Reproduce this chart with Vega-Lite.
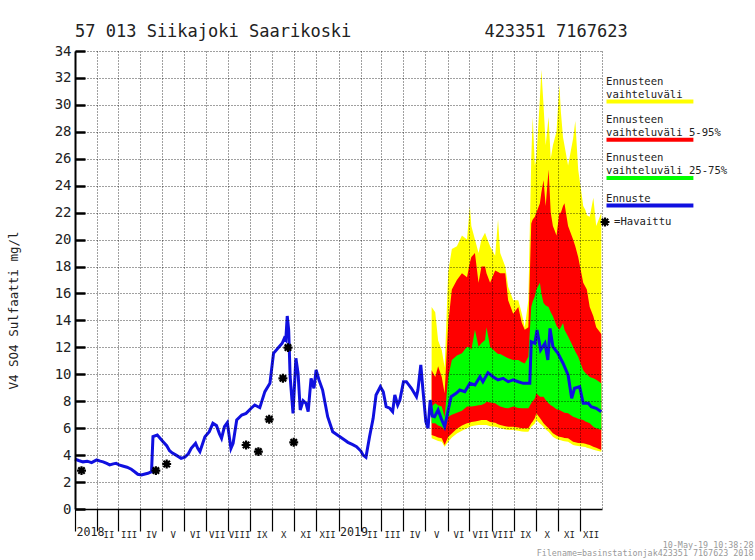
{
  "$schema": "https://vega.github.io/schema/vega-lite/v6.json",
  "width": 527,
  "height": 458,
  "autosize": {"type": "none"},
  "padding": {"left": 75, "top": 51, "right": 153, "bottom": 51},
  "background": "white",
  "title": {
    "text": "57 013 Siikajoki Saarikoski\u00a0\u00a0\u00a0\u00a0\u00a0\u00a0\u00a0\u00a0\u00a0\u00a0\u00a0\u00a0\u00a0423351 7167623",
    "anchor": "start", "frame": "group", "font": "DejaVu Sans Mono", "fontSize": 17,
    "fontWeight": "normal", "color": "#222", "offset": -10, "baseline": "alphabetic"
  },
  "datasets": {
    "series": [
      {"date": "2018-01-01", "value": 3.71}, {"date": "2018-01-06", "value": 3.6}, {"date": "2018-01-12", "value": 3.5},
      {"date": "2018-01-18", "value": 3.55}, {"date": "2018-01-24", "value": 3.44}, {"date": "2018-01-31", "value": 3.64},
      {"date": "2018-02-05", "value": 3.55}, {"date": "2018-02-09", "value": 3.5}, {"date": "2018-02-14", "value": 3.38},
      {"date": "2018-02-18", "value": 3.27}, {"date": "2018-02-23", "value": 3.35}, {"date": "2018-02-27", "value": 3.39},
      {"date": "2018-03-04", "value": 3.25}, {"date": "2018-03-08", "value": 3.19}, {"date": "2018-03-14", "value": 3.1},
      {"date": "2018-03-20", "value": 2.95}, {"date": "2018-03-25", "value": 2.75}, {"date": "2018-03-29", "value": 2.58},
      {"date": "2018-04-03", "value": 2.52}, {"date": "2018-04-08", "value": 2.6}, {"date": "2018-04-12", "value": 2.65},
      {"date": "2018-04-17", "value": 2.77}, {"date": "2018-04-19", "value": 5.37}, {"date": "2018-04-25", "value": 5.49},
      {"date": "2018-05-03", "value": 5.0}, {"date": "2018-05-08", "value": 4.7}, {"date": "2018-05-12", "value": 4.33},
      {"date": "2018-05-16", "value": 4.15}, {"date": "2018-05-21", "value": 4.0}, {"date": "2018-05-28", "value": 3.76},
      {"date": "2018-06-02", "value": 3.84}, {"date": "2018-06-07", "value": 4.1}, {"date": "2018-06-11", "value": 4.5},
      {"date": "2018-06-17", "value": 4.88}, {"date": "2018-06-20", "value": 4.5}, {"date": "2018-06-23", "value": 4.26},
      {"date": "2018-06-30", "value": 5.37}, {"date": "2018-07-06", "value": 5.74}, {"date": "2018-07-11", "value": 6.36},
      {"date": "2018-07-16", "value": 6.19}, {"date": "2018-07-20", "value": 5.6}, {"date": "2018-07-23", "value": 5.25},
      {"date": "2018-07-27", "value": 6.11}, {"date": "2018-07-31", "value": 6.41}, {"date": "2018-08-05", "value": 4.5},
      {"date": "2018-08-08", "value": 4.88}, {"date": "2018-08-13", "value": 6.61}, {"date": "2018-08-20", "value": 6.98},
      {"date": "2018-08-26", "value": 7.1}, {"date": "2018-09-02", "value": 7.48}, {"date": "2018-09-07", "value": 7.72},
      {"date": "2018-09-14", "value": 7.52}, {"date": "2018-09-21", "value": 8.71}, {"date": "2018-09-28", "value": 9.33},
      {"date": "2018-10-03", "value": 11.56}, {"date": "2018-10-09", "value": 11.93}, {"date": "2018-10-15", "value": 12.3},
      {"date": "2018-10-18", "value": 12.67}, {"date": "2018-10-20", "value": 12.55}, {"date": "2018-10-22", "value": 14.33},
      {"date": "2018-10-24", "value": 13.29}, {"date": "2018-10-26", "value": 9.82}, {"date": "2018-10-30", "value": 7.1},
      {"date": "2018-11-03", "value": 11.19}, {"date": "2018-11-06", "value": 10.07}, {"date": "2018-11-09", "value": 7.35},
      {"date": "2018-11-13", "value": 8.04}, {"date": "2018-11-17", "value": 7.85}, {"date": "2018-11-20", "value": 7.22},
      {"date": "2018-11-24", "value": 9.7}, {"date": "2018-11-28", "value": 8.96}, {"date": "2018-12-01", "value": 10.32},
      {"date": "2018-12-05", "value": 9.58}, {"date": "2018-12-10", "value": 8.83}, {"date": "2018-12-17", "value": 6.85},
      {"date": "2018-12-24", "value": 5.74}, {"date": "2019-01-03", "value": 5.37}, {"date": "2019-01-10", "value": 5.1},
      {"date": "2019-01-14", "value": 4.95}, {"date": "2019-01-20", "value": 4.8}, {"date": "2019-01-26", "value": 4.63},
      {"date": "2019-02-01", "value": 4.3}, {"date": "2019-02-04", "value": 4.0}, {"date": "2019-02-08", "value": 3.84},
      {"date": "2019-02-13", "value": 5.37}, {"date": "2019-02-18", "value": 6.73}, {"date": "2019-02-22", "value": 8.46},
      {"date": "2019-02-28", "value": 9.08}, {"date": "2019-03-04", "value": 8.71}, {"date": "2019-03-08", "value": 7.6},
      {"date": "2019-03-13", "value": 7.48}, {"date": "2019-03-17", "value": 7.22}, {"date": "2019-03-20", "value": 8.46},
      {"date": "2019-03-24", "value": 7.72}, {"date": "2019-03-27", "value": 8.09}, {"date": "2019-04-01", "value": 9.45},
      {"date": "2019-04-05", "value": 9.45}, {"date": "2019-04-12", "value": 8.96}, {"date": "2019-04-19", "value": 8.34},
      {"date": "2019-04-21", "value": 8.83}, {"date": "2019-04-25", "value": 10.69}, {"date": "2019-04-28", "value": 8.83},
      {"date": "2019-05-02", "value": 6.48}, {"date": "2019-05-05", "value": 5.99}, {"date": "2019-05-08", "value": 8.09},
      {"date": "2019-05-11", "value": 6.9}, {"date": "2019-05-14", "value": 6.85}, {"date": "2019-05-19", "value": 7.35},
      {"date": "2019-05-24", "value": 6.61}, {"date": "2019-05-28", "value": 6.11}, {"date": "2019-06-02", "value": 7.35},
      {"date": "2019-06-06", "value": 8.34}, {"date": "2019-06-13", "value": 8.59}, {"date": "2019-06-18", "value": 8.83},
      {"date": "2019-06-25", "value": 8.71}, {"date": "2019-07-02", "value": 9.33}, {"date": "2019-07-09", "value": 9.21},
      {"date": "2019-07-16", "value": 9.82}, {"date": "2019-07-20", "value": 9.45}, {"date": "2019-07-27", "value": 10.12},
      {"date": "2019-08-03", "value": 9.82}, {"date": "2019-08-10", "value": 9.58}, {"date": "2019-08-17", "value": 9.7},
      {"date": "2019-08-24", "value": 9.45}, {"date": "2019-08-31", "value": 9.58}, {"date": "2019-09-07", "value": 9.45},
      {"date": "2019-09-14", "value": 9.33}, {"date": "2019-09-23", "value": 9.33}, {"date": "2019-09-25", "value": 12.42},
      {"date": "2019-09-30", "value": 12.3}, {"date": "2019-10-03", "value": 13.29}, {"date": "2019-10-08", "value": 11.8},
      {"date": "2019-10-14", "value": 12.3}, {"date": "2019-10-18", "value": 11.06}, {"date": "2019-10-21", "value": 13.41},
      {"date": "2019-10-25", "value": 12.05}, {"date": "2019-11-01", "value": 11.56}, {"date": "2019-11-08", "value": 10.82},
      {"date": "2019-11-15", "value": 9.95}, {"date": "2019-11-20", "value": 8.22}, {"date": "2019-11-24", "value": 8.96},
      {"date": "2019-12-01", "value": 9.08}, {"date": "2019-12-06", "value": 7.85}, {"date": "2019-12-13", "value": 7.85},
      {"date": "2019-12-17", "value": 7.6}, {"date": "2019-12-24", "value": 7.48}, {"date": "2019-12-31", "value": 7.22}
    ],
    "bands": [
      {"date": "2019-05-10", "min": 5.25, "p5": 5.5, "p25": 6.36, "p75": 7.6, "p95": 10.3, "max": 15.0},
      {"date": "2019-05-15", "min": 5.15, "p5": 5.4, "p25": 6.36, "p75": 7.85, "p95": 9.8, "max": 14.6},
      {"date": "2019-05-19", "min": 5.05, "p5": 5.3, "p25": 6.2, "p75": 7.7, "p95": 10.6, "max": 12.5},
      {"date": "2019-05-24", "min": 5.0, "p5": 5.25, "p25": 6.1, "p75": 7.6, "p95": 9.8, "max": 11.8},
      {"date": "2019-05-28", "min": 4.63, "p5": 4.75, "p25": 5.86, "p75": 6.85, "p95": 8.6, "max": 10.5},
      {"date": "2019-06-02", "min": 5.0, "p5": 5.37, "p25": 6.85, "p75": 9.8, "p95": 13.8, "max": 17.6},
      {"date": "2019-06-07", "min": 5.3, "p5": 5.6, "p25": 7.0, "p75": 11.06, "p95": 16.3, "max": 19.3},
      {"date": "2019-06-14", "min": 5.6, "p5": 5.95, "p25": 7.15, "p75": 11.4, "p95": 17.0, "max": 19.5},
      {"date": "2019-06-21", "min": 5.8, "p5": 6.2, "p25": 7.3, "p75": 11.56, "p95": 17.5, "max": 20.3},
      {"date": "2019-06-28", "min": 6.0, "p5": 6.36, "p25": 7.6, "p75": 12.05, "p95": 17.2, "max": 20.0},
      {"date": "2019-07-02", "min": 6.1, "p5": 6.4, "p25": 7.6, "p75": 12.0, "p95": 18.3, "max": 22.5},
      {"date": "2019-07-04", "min": 6.15, "p5": 6.45, "p25": 7.6, "p75": 11.8, "p95": 18.7, "max": 21.0},
      {"date": "2019-07-09", "min": 6.2, "p5": 6.5, "p25": 7.65, "p75": 13.3, "p95": 19.0, "max": 20.0},
      {"date": "2019-07-14", "min": 6.24, "p5": 6.55, "p25": 7.7, "p75": 12.05, "p95": 16.8, "max": 19.0},
      {"date": "2019-07-18", "min": 6.24, "p5": 6.6, "p25": 7.72, "p75": 12.3, "p95": 18.0, "max": 20.0},
      {"date": "2019-07-23", "min": 6.24, "p5": 6.6, "p25": 7.85, "p75": 12.55, "p95": 18.0, "max": 20.5},
      {"date": "2019-07-25", "min": 6.24, "p5": 6.6, "p25": 7.97, "p75": 13.5, "p95": 17.5, "max": 20.2},
      {"date": "2019-07-30", "min": 6.15, "p5": 6.45, "p25": 7.9, "p75": 12.05, "p95": 16.8, "max": 19.5},
      {"date": "2019-08-06", "min": 6.1, "p5": 6.4, "p25": 7.85, "p75": 11.7, "p95": 17.7, "max": 18.8},
      {"date": "2019-08-10", "min": 6.05, "p5": 6.3, "p25": 7.7, "p75": 11.5, "p95": 17.6, "max": 21.5},
      {"date": "2019-08-13", "min": 6.0, "p5": 6.24, "p25": 7.6, "p75": 11.5, "p95": 17.5, "max": 19.0},
      {"date": "2019-08-20", "min": 5.9, "p5": 6.15, "p25": 7.5, "p75": 11.3, "p95": 17.5, "max": 18.0},
      {"date": "2019-08-24", "min": 5.86, "p5": 6.1, "p25": 7.48, "p75": 11.2, "p95": 15.5, "max": 16.5},
      {"date": "2019-08-31", "min": 5.86, "p5": 6.1, "p25": 7.6, "p75": 11.06, "p95": 14.5, "max": 15.5},
      {"date": "2019-09-07", "min": 5.8, "p5": 6.05, "p25": 7.5, "p75": 11.06, "p95": 15.0, "max": 15.5},
      {"date": "2019-09-12", "min": 5.75, "p5": 6.0, "p25": 7.48, "p75": 10.9, "p95": 13.8, "max": 14.5},
      {"date": "2019-09-16", "min": 5.74, "p5": 6.0, "p25": 7.48, "p75": 10.8, "p95": 13.3, "max": 13.5},
      {"date": "2019-09-21", "min": 5.74, "p5": 6.0, "p25": 7.48, "p75": 11.3, "p95": 13.5, "max": 15.5},
      {"date": "2019-09-25", "min": 6.1, "p5": 6.36, "p25": 7.85, "p75": 15.0, "p95": 21.2, "max": 26.0},
      {"date": "2019-09-27", "min": 6.2, "p5": 6.5, "p25": 8.0, "p75": 15.4, "p95": 21.5, "max": 29.1},
      {"date": "2019-09-30", "min": 6.35, "p5": 6.75, "p25": 8.2, "p75": 15.8, "p95": 21.7, "max": 25.5},
      {"date": "2019-10-02", "min": 6.6, "p5": 7.1, "p25": 8.6, "p75": 16.3, "p95": 22.0, "max": 26.0},
      {"date": "2019-10-07", "min": 6.35, "p5": 6.75, "p25": 8.34, "p75": 16.8, "p95": 22.7, "max": 30.5},
      {"date": "2019-10-09", "min": 6.25, "p5": 6.6, "p25": 8.34, "p75": 16.0, "p95": 23.5, "max": 32.6},
      {"date": "2019-10-12", "min": 6.1, "p5": 6.36, "p25": 8.34, "p75": 15.3, "p95": 24.4, "max": 30.0},
      {"date": "2019-10-15", "min": 5.9, "p5": 6.2, "p25": 8.1, "p75": 15.1, "p95": 22.5, "max": 27.0},
      {"date": "2019-10-19", "min": 5.74, "p5": 6.0, "p25": 7.85, "p75": 15.0, "p95": 25.2, "max": 29.1},
      {"date": "2019-10-22", "min": 5.55, "p5": 5.8, "p25": 7.7, "p75": 14.6, "p95": 22.0, "max": 26.0},
      {"date": "2019-10-25", "min": 5.37, "p5": 5.62, "p25": 7.6, "p75": 14.3, "p95": 21.0, "max": 27.0},
      {"date": "2019-10-30", "min": 5.2, "p5": 5.45, "p25": 7.4, "p75": 13.6, "p95": 20.3, "max": 28.0},
      {"date": "2019-11-03", "min": 5.12, "p5": 5.37, "p25": 7.35, "p75": 13.3, "p95": 22.0, "max": 31.5},
      {"date": "2019-11-05", "min": 5.1, "p5": 5.35, "p25": 7.3, "p75": 13.5, "p95": 22.0, "max": 29.5},
      {"date": "2019-11-08", "min": 5.05, "p5": 5.3, "p25": 7.2, "p75": 13.8, "p95": 22.5, "max": 27.6},
      {"date": "2019-11-10", "min": 5.03, "p5": 5.28, "p25": 7.15, "p75": 13.3, "p95": 22.7, "max": 27.0},
      {"date": "2019-11-15", "min": 5.0, "p5": 5.25, "p25": 7.1, "p75": 12.8, "p95": 21.0, "max": 25.5},
      {"date": "2019-11-22", "min": 4.75, "p5": 5.0, "p25": 6.85, "p75": 12.05, "p95": 20.0, "max": 27.5},
      {"date": "2019-11-25", "min": 4.72, "p5": 4.95, "p25": 6.8, "p75": 11.7, "p95": 19.5, "max": 28.8},
      {"date": "2019-11-29", "min": 4.68, "p5": 4.9, "p25": 6.7, "p75": 11.3, "p95": 18.7, "max": 25.2},
      {"date": "2019-12-06", "min": 4.63, "p5": 4.88, "p25": 6.6, "p75": 10.3, "p95": 16.8, "max": 22.5},
      {"date": "2019-12-09", "min": 4.6, "p5": 4.85, "p25": 6.5, "p75": 10.1, "p95": 16.5, "max": 22.2},
      {"date": "2019-12-11", "min": 4.55, "p5": 4.8, "p25": 6.45, "p75": 10.0, "p95": 16.3, "max": 21.8},
      {"date": "2019-12-15", "min": 4.5, "p5": 4.75, "p25": 6.36, "p75": 9.8, "p95": 15.0, "max": 21.7},
      {"date": "2019-12-20", "min": 4.4, "p5": 4.63, "p25": 6.1, "p75": 9.7, "p95": 14.3, "max": 23.1},
      {"date": "2019-12-24", "min": 4.35, "p5": 4.55, "p25": 6.0, "p75": 9.6, "p95": 13.5, "max": 21.0},
      {"date": "2019-12-31", "min": 4.25, "p5": 4.38, "p25": 5.86, "p75": 9.33, "p95": 13.0, "max": 22.0}
    ],
    "obs": [
      {"date": "2018-01-10", "value": 2.85}, {"date": "2018-04-23", "value": 2.85}, {"date": "2018-05-08", "value": 3.34},
      {"date": "2018-08-26", "value": 4.75}, {"date": "2018-09-12", "value": 4.26}, {"date": "2018-09-27", "value": 6.66},
      {"date": "2018-10-16", "value": 9.7}, {"date": "2018-10-23", "value": 11.98}, {"date": "2018-10-31", "value": 4.95}
    ]
  },
  "layer": [
    {
      "data": {"name": "bands"},
      "mark": {"type": "area", "opacity": 1},
      "encoding": {
        "x": {
          "field": "date", "type": "temporal",
          "scale": {"type": "utc", "domain": [{"year": 2018, "month": 1, "date": 1, "utc": true}, {"year": 2020, "month": 1, "date": 1, "utc": true}], "nice": false},
          "axis": {
            "zindex": 1,
            "tickCount": {"interval": "month", "step": 1},
            "grid": true,
            "domainWidth": 1.5,
            "tickSize": 22,
            "tickWidth": 1.2,
            "tickOpacity": {"condition": {"test": "utcyear(datum.value) >= 2020", "value": 0}, "value": 1},
            "labelExpr": "utcyear(datum.value) >= 2020 ? '' : (utcmonth(datum.value) == 0 ? utcFormat(datum.value, '%Y') : ['I','II','III','IV','V','VI','VII','VIII','IX','X','XI','XII'][utcmonth(datum.value)])",
            "labelOverlap": false,
            "labelFlush": false,
            "labelBound": false,
            "labelBaseline": "alphabetic",
            "labelAlign": {"condition": {"test": "utcmonth(datum.value) == 0", "value": "left"}, "value": "center"},
            "labelOffset": {"condition": {"test": "utcmonth(datum.value) == 0", "value": 1}, "value": 11},
            "labelFontSize": {"condition": {"test": "utcmonth(datum.value) == 0", "value": 11.6}, "value": 9},
            "labelPadding": {"condition": {"test": "utcmonth(datum.value) == 0", "value": 4}, "value": 6},
            "title": ["10-May-19 10:38:28\u00a0\u00a0\u00a0\u00a0\u00a0\u00a0\u00a0\u00a0\u00a0\u00a0", "Filename=basinstationjak423351 7167623 2018"],
            "titleFont": "DejaVu Sans Mono",
            "titleFontSize": 8.4,
            "titleFontWeight": "normal",
            "titleColor": "#999",
            "titleAlign": "right",
            "titleBaseline": "alphabetic",
            "titleX": 678,
            "titleY": 38,
            "titleLineHeight": 8
          }
        },
        "y": {
          "field": "min", "type": "quantitative",
          "scale": {"domain": [0, 34], "nice": false, "zero": false},
          "axis": {
            "zindex": 1,
            "values": [0, 2, 4, 6, 8, 10, 12, 14, 16, 18, 20, 22, 24, 26, 28, 30, 32, 34],
            "tickCount": 18,
            "grid": true,
            "labelOverlap": false,
            "labelBound": false,
            "labelFlush": false,
            "domainWidth": 2,
            "tickSize": -10,
            "tickWidth": 2.5,
            "labelFontSize": 14,
            "labelPadding": 14,
            "title": "V4 SO4 Sulfaatti mg/l",
            "titleFont": "DejaVu Sans Mono",
            "titleFontSize": 12.5,
            "titleFontWeight": "normal",
            "titleColor": "#222",
            "titleAngle": -90,
            "titleAlign": "center",
            "titleBaseline": "middle",
            "titleX": -62,
            "titleY": 259
          }
        },
        "y2": {"field": "max"},
        "fill": {
          "datum": "Ennusteen vaihteluväli",
          "type": "nominal",
          "scale": {
            "domain": ["Ennusteen vaihteluväli", "Ennusteen vaihteluväli 5-95%", "Ennusteen vaihteluväli 25-75%"],
            "range": ["#ffff00", "#ff0000", "#00ff00"]
          },
          "legend": {
            "orient": "none", "legendX": 524, "legendY": 43, "title": null, "direction": "vertical",
            "symbolType": "M0,0H16", "symbolSize": 118, "symbolStrokeWidth": 4, "symbolOpacity": 1,
            "labelExpr": "indexof(datum.label, ' ') > 0 ? [substring(datum.label, 0, indexof(datum.label, ' ')), substring(datum.label, indexof(datum.label, ' ') + 1)] : datum.label",
            "labelFont": "DejaVu Sans Mono", "labelFontSize": 10.6, "labelColor": "#222",
            "labelBaseline": "bottom", "labelOffset": -8, "labelLimit": 300, "rowPadding": 4.3,
            "encode": {
              "symbols": {"update": {"stroke": {"scale": "fill", "field": "value"}, "fill": {"value": "transparent"}, "strokeWidth": {"value": 4}}},
              "labels": {"update": {"dy": {"value": -15}, "lineHeight": {"value": 13}}}
            }
          }
        }
      }
    },
    {
      "data": {"name": "bands"},
      "mark": {"type": "area", "opacity": 1},
      "encoding": {
        "x": {"field": "date", "type": "temporal"},
        "y": {"field": "p5", "type": "quantitative", "axis": {"labelOverlap": false, "values": [0, 2, 4, 6, 8, 10, 12, 14, 16, 18, 20, 22, 24, 26, 28, 30, 32, 34]}},
        "y2": {"field": "p95"},
        "fill": {"datum": "Ennusteen vaihteluväli 5-95%", "type": "nominal"}
      }
    },
    {
      "data": {"name": "bands"},
      "mark": {"type": "area", "opacity": 1},
      "encoding": {
        "x": {"field": "date", "type": "temporal"},
        "y": {"field": "p25", "type": "quantitative", "axis": {"labelOverlap": false, "values": [0, 2, 4, 6, 8, 10, 12, 14, 16, 18, 20, 22, 24, 26, 28, 30, 32, 34]}},
        "y2": {"field": "p75"},
        "fill": {"datum": "Ennusteen vaihteluväli 25-75%", "type": "nominal"}
      }
    },
    {
      "data": {"name": "series"},
      "mark": {"type": "line", "strokeWidth": 3},
      "encoding": {
        "x": {"field": "date", "type": "temporal"},
        "y": {"field": "value", "type": "quantitative", "axis": {"labelOverlap": false, "values": [0, 2, 4, 6, 8, 10, 12, 14, 16, 18, 20, 22, 24, 26, 28, 30, 32, 34]}},
        "stroke": {
          "datum": "Ennuste", "type": "nominal",
          "scale": {"domain": ["Ennuste"], "range": ["#1010e0"]},
          "legend": {
            "orient": "none", "legendX": 524, "legendY": 147, "title": null,
            "symbolType": "M0,0H16", "symbolSize": 118, "symbolStrokeWidth": 4, "symbolOpacity": 1,
            "labelFont": "DejaVu Sans Mono", "labelFontSize": 10.6, "labelColor": "#222",
            "labelBaseline": "bottom", "labelOffset": -8, "labelLimit": 300,
            "encode": {
              "symbols": {"update": {"strokeWidth": {"value": 4}}},
              "labels": {"update": {"dy": {"value": -2}}}
            }
          }
        }
      }
    },
    {
      "data": {"name": "obs"},
      "mark": {"type": "point", "filled": false, "color": "#000", "strokeWidth": 2.2, "size": 80, "opacity": 1},
      "encoding": {
        "x": {"field": "date", "type": "temporal"},
        "y": {"field": "value", "type": "quantitative", "axis": {"labelOverlap": false, "values": [0, 2, 4, 6, 8, 10, 12, 14, 16, 18, 20, 22, 24, 26, 28, 30, 32, 34]}},
        "shape": {
          "datum": "=Havaittu", "type": "nominal",
          "scale": {"range": ["M-1,0L1,0M0,-1L0,1M-0.72,-0.72L0.72,0.72M-0.72,0.72L0.72,-0.72"]},
          "legend": {
            "orient": "none", "legendX": 524, "legendY": 165, "title": null,
            "labelFont": "DejaVu Sans Mono", "labelFontSize": 10.6, "labelColor": "#222",
            "labelOffset": 3, "symbolStrokeWidth": 2.2, "symbolStrokeColor": "#000", "symbolSize": 80
          }
        }
      }
    }
  ],
  "config": {
    "view": {"stroke": null},
    "font": "DejaVu Sans Mono",
    "axis": {
      "gridDash": [1, 2], "gridColor": "#000", "gridOpacity": 0.75, "gridWidth": 1,
      "domainColor": "#000", "tickColor": "#000", "labelColor": "#222",
      "labelFont": "DejaVu Sans Mono", "labelOverlap": false
    },
    "axisY": {"labelOverlap": false}
  }
}
